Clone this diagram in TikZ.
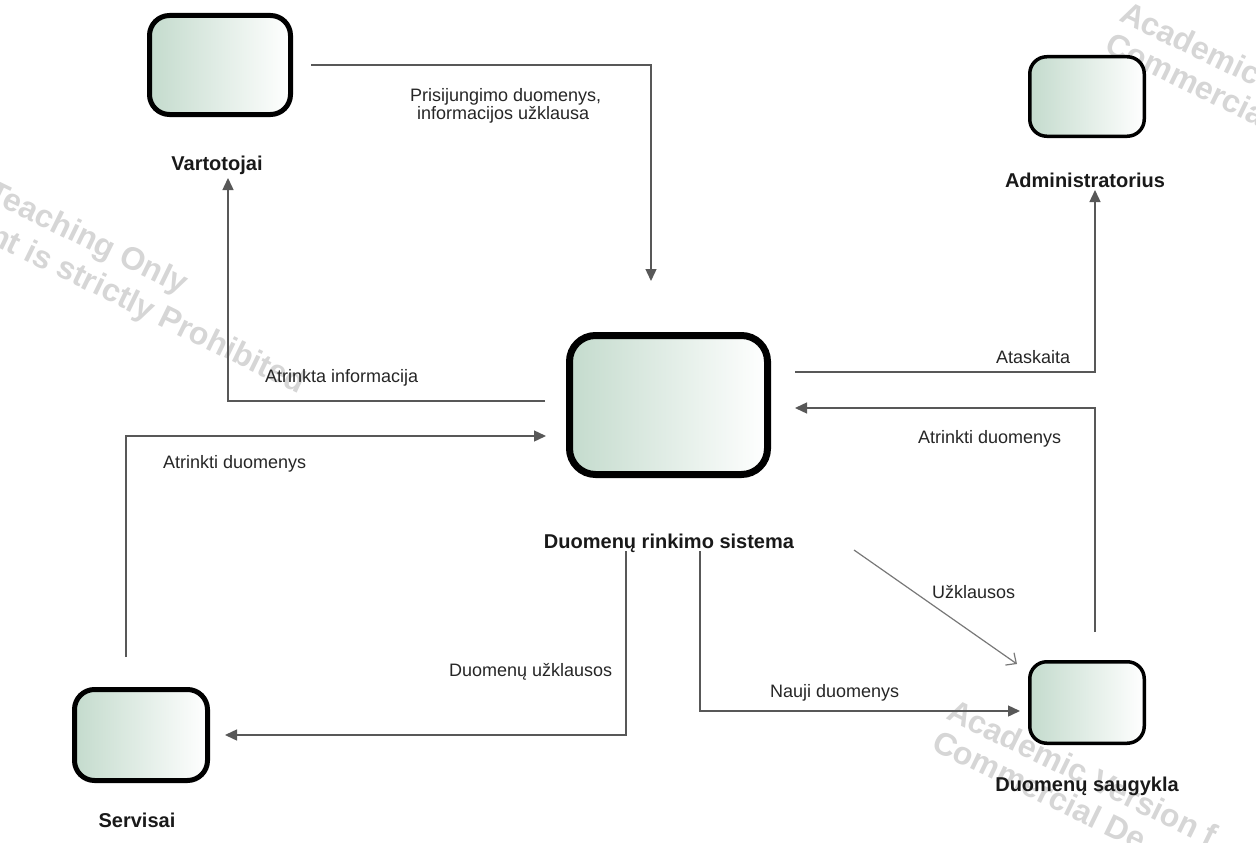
\documentclass[tikz,border=0pt]{standalone}
\usepackage{fontspec}
\setmainfont{Liberation Sans}
\usetikzlibrary{arrows.meta,calc}

\definecolor{boxgreen}{RGB}{196,219,205}
\definecolor{flowgray}{RGB}{88,88,88}
\definecolor{querygray}{RGB}{120,120,120}
\definecolor{wmgray}{RGB}{214,214,214}

\tikzset{
  entity/.style={draw=black, left color=boxgreen, right color=white, inner sep=0pt},
  title/.style={font=\fontsize{20}{22}\selectfont\bfseries, text=black!90, anchor=base, inner sep=0pt},
  flowlabel/.style={font=\fontsize{18}{18}\selectfont, text=black!85, anchor=base west, inner sep=0pt},
  flow/.style={draw=flowgray, line width=1.4pt, -{Triangle[length=12pt,width=11pt]}},
  query/.style={draw=querygray, line width=1.2pt, -{Straight Barb[length=8pt,width=15pt]}},
  wm/.style={font=\fontsize{32}{32}\selectfont\bfseries, text=wmgray, rotate=-26, anchor=base west, inner sep=0pt},
}

\begin{document}
\begin{tikzpicture}[x=1pt, y=-1pt]
  \useasboundingbox (0,0) rectangle (1256,843);

  % watermark pieces behind the diagram
  \begin{scope}
    \clip (0,0) rectangle (1256,843);
    \node[wm] (wm1a) at (-15,199) {Teaching Only};
    \node[wm] (wm1b) at (-13,242) {nt is strictly Prohibited};
    \node[wm] (wm2a) at (1118,20) {Academic};
    \node[wm] (wm2b) at (1103,51) {Commercial};
    \node[wm] (wm3a) at (945,718) {Academic Version f};
    \node[wm] (wm3b) at (930,749) {Commercial De};
  \end{scope}

  % entities
  \node[entity, line width=5pt, rounded corners=20pt, minimum width=141pt, minimum height=99pt] (vart) at (220,65) {};
  \node[entity, line width=7pt, rounded corners=26pt, minimum width=198pt, minimum height=139pt] (sys) at (668.5,405) {};
  \node[entity, line width=3.5pt, rounded corners=17pt, minimum width=114.5pt, minimum height=79.5pt] (admin) at (1087,96.5) {};
  \node[entity, line width=3.5pt, rounded corners=17pt, minimum width=114.5pt, minimum height=81.5pt] (saug) at (1087,702.5) {};
  \node[entity, line width=5pt, rounded corners=20pt, minimum width=133pt, minimum height=91pt] (serv) at (141,735) {};

  % entity titles
  \node[title] (vart-t) at (217,170) {Vartotojai};
  \node[title] (admin-t) at (1085,187) {Administratorius};
  \node[title] (sys-t) at (669,548) {Duomenų rinkimo sistema};
  \node[title] (saug-t) at (1087,791) {Duomenų saugykla};
  \node[title] (serv-t) at (137,827) {Servisai};

  % connector end points
  \coordinate (vart-out) at ($(vart.east)+(18,0)$);
  \coordinate (sys-in-top) at (651,281);
  \coordinate (sys-out-left) at (545,401);
  \coordinate (vart-in) at (228,178);
  \coordinate (serv-out) at (126,657);
  \coordinate (sys-in-left) at (546,436);
  \coordinate (sys-out-right) at (795,372);
  \coordinate (admin-in) at (1095,190);
  \coordinate (saug-out) at (1095,632);
  \coordinate (sys-in-right) at (795,408);
  \coordinate (sys-q) at (854,550);
  \coordinate (saug-q) at (1017,664);
  \coordinate (sys-out-a) at (626,551);
  \coordinate (serv-in) at (225,735);
  \coordinate (sys-out-b) at (700,551);
  \coordinate (saug-in) at (1020,711);

  % flows
  \draw[flow] (vart-out) -| (sys-in-top);
  \draw[flow] (sys-out-left) -| (vart-in);
  \draw[flow] (serv-out) |- (sys-in-left);
  \draw[flow] (sys-out-right) -| (admin-in);
  \draw[flow] (saug-out) |- (sys-in-right);
  \draw[query] (sys-q) -- (saug-q);
  \draw[flow] (sys-out-a) |- (serv-in);
  \draw[flow] (sys-out-b) |- (saug-in);

  % flow labels
  \node[flowlabel] (l1a) at (410,101) {Prisijungimo duomenys,};
  \node[flowlabel] (l1b) at (417,119) {informacijos užklausa};
  \node[flowlabel] (l2) at (265,382) {Atrinkta informacija};
  \node[flowlabel] (l3) at (163,468) {Atrinkti duomenys};
  \node[flowlabel] (l4) at (996,363) {Ataskaita};
  \node[flowlabel] (l5) at (918,443) {Atrinkti duomenys};
  \node[flowlabel] (l6) at (932,598) {Užklausos};
  \node[flowlabel] (l7) at (449,676) {Duomenų užklausos};
  \node[flowlabel] (l8) at (770,697) {Nauji duomenys};
\end{tikzpicture}
\end{document}
